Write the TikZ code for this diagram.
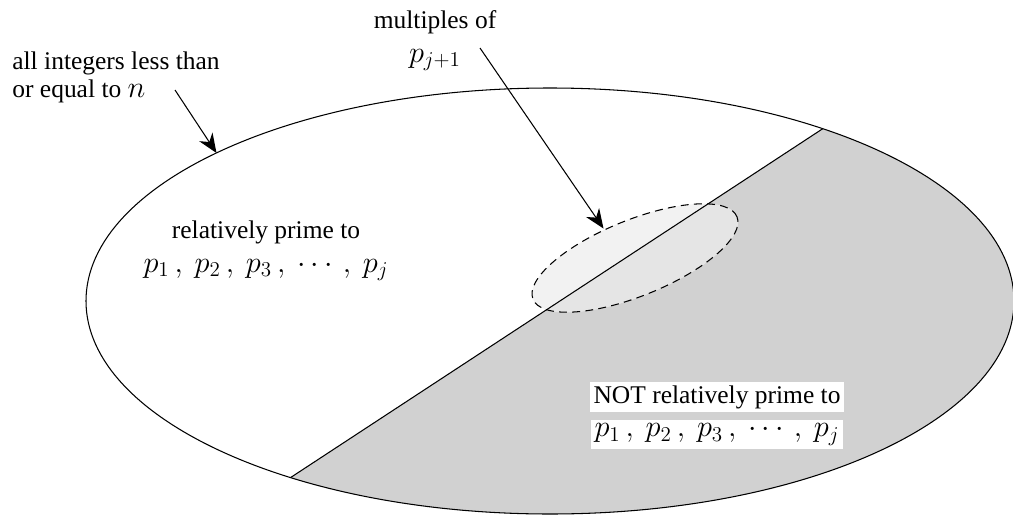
\documentclass[tikz,border=0pt]{standalone}
\usepackage{fontspec}
\setmainfont{Liberation Serif}
\usetikzlibrary{arrows.meta,positioning}
\newcommand{\mathsz}{\fontsize{18}{21}\selectfont}
\newcommand{\plist}{$p_1\,,\:p_2\,,\:p_3\,,\:\cdots\,,\:p_j$}

\begin{document}
\begin{tikzpicture}[
    every node/.style={font=\fontsize{14.5}{16}\selectfont, inner sep=0pt},
    pointer/.style={-{Stealth[length=11pt,width=9pt,inset=3.5pt]}, line width=0.6pt},
    whitebox/.style={fill=white, inner sep=2pt},
    outline/.style={line width=0.6pt}]
  \useasboundingbox (0,0) rectangle (20.26,10.32);
  % Noktalar
  \coordinate (cen) at (11,4.30);
  \coordinate (chordtop) at (16.455,7.746);
  \coordinate (chordbot) at (5.81,0.768);
  \coordinate (mc) at (12.70,5.16);
  % NOT relatively prime half
  \fill[black!18] (chordtop) arc[start angle=54, end angle=-124, x radius=9.28, y radius=4.26] -- cycle;
  % multiples of p_{j+1}
  \fill[black!5, rotate around={22:(mc)}] (mc) ellipse[x radius=2.2, y radius=0.76];
  \begin{scope}
    \clip (chordtop) arc[start angle=54, end angle=-124, x radius=9.28, y radius=4.26] -- cycle;
    \fill[black!10, rotate around={22:(mc)}] (mc) ellipse[x radius=2.2, y radius=0.76];
  \end{scope}
  \draw[outline, dash pattern=on 4.5pt off 3pt, rotate around={22:(mc)}] (mc) ellipse[x radius=2.2, y radius=0.76];
  \draw[outline] (chordbot) -- (chordtop);
  \draw[outline] (cen) ellipse[x radius=9.28, y radius=4.26];
  % Yazilar
  \node[anchor=west, align=left] (allint) at (0.24,8.78) {all integers less than\\or equal to \mathsz$n$};
  \node[align=center] (mult) at (8.70,9.50) {multiples of\\[3pt]\mathsz$p_{j+1}$};
  \node[align=center] (relprime) at (5.32,5.30) {relatively prime to\\[3pt]\mathsz\plist};
  \node[whitebox] (notrel) at (14.34,2.38) {NOT relatively prime to\ };
  \node[whitebox, font=\mathsz, below=4pt of notrel] (notlist) {\plist};
  % Oklar
  \coordinate (tail1) at (3.50,8.52);
  \coordinate (tip1) at (4.33,7.26);
  \coordinate (tail2) at (9.60,9.36);
  \coordinate (tip2) at (12.07,5.75);
  \draw[pointer] (tail1) -- (tip1);
  \draw[pointer] (tail2) -- (tip2);
\end{tikzpicture}
\end{document}
